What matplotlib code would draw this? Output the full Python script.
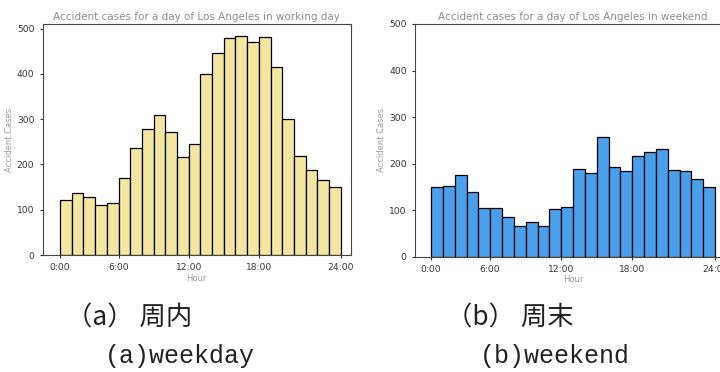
import matplotlib
matplotlib.use("Agg")
import matplotlib.pyplot as plt
import numpy as np

# hourly accident counts
hours = np.arange(24)
weekday_cases = [122, 136, 127, 110, 115, 169, 237, 278, 309, 271, 216, 246,
                 400, 445, 478, 483, 471, 481, 415, 301, 218, 188, 166, 151]
weekend_cases = [150, 151, 176, 138, 104, 104, 85, 65, 75, 65, 102, 106,
                 189, 179, 258, 193, 185, 216, 226, 232, 187, 185, 166, 150]
# the original puts its hour labels at these bin edges
tick_pos = [0, 5, 11, 17, 24]
tick_labels = ["0:00", "6:00", "12:00", "18:00", "24:00"]

fig = plt.figure(figsize=(7.2, 3.72), dpi=100)

ax1 = fig.add_axes([0.0593, 0.3145, 0.4278, 0.621])
ax2 = fig.add_axes([0.5764, 0.31, 0.439, 0.6255])


def draw(ax, values, color, title, xlim, ylim):
    ax.hist(hours, bins=np.arange(25), weights=values,
            color=color, edgecolor="black", linewidth=0.9)
    ax.set_xlim(*xlim)
    ax.set_ylim(*ylim)
    ax.set_xticks(tick_pos)
    ax.set_xticklabels(tick_labels)
    ax.set_yticks(range(0, 501, 100))
    ax.tick_params(labelsize=6.6, length=2.5, colors="#333333")
    ax.set_title(title, fontsize=7.5, color="#8c8c8c", pad=3)
    ax.set_xlabel("Hour", fontsize=6, color="#999999", labelpad=1)
    ax.set_ylabel("Accident Cases", fontsize=6, color="#999999", labelpad=2)
    for s in ax.spines.values():
        s.set_color("#444444")
        s.set_linewidth(0.8)


draw(ax1, weekday_cases, "#f2e6a0",
     "Accident cases for a day of Los Angeles in working day",
     (-1.48, 24.85), (0, 510))
draw(ax2, weekend_cases, "#4a9fec",
     "Accident cases for a day of Los Angeles in weekend",
     (-1.35, 25.35), (0, 500))

cjk = ["Noto Sans CJK SC", "DejaVu Sans"]
fig.text(66 / 720, 1 - 318 / 372, "（a） 周内", fontsize=19, family=cjk,
         ha="left", va="center", color="#222222")
fig.text(446 / 720, 1 - 318 / 372, "（b） 周末", fontsize=19, family=cjk,
         ha="left", va="center", color="#222222")
fig.text(105 / 720, 1 - 356 / 372, "(a)weekday", fontsize=18,
         family="Liberation Mono", ha="left", va="center", color="#222222")
fig.text(480 / 720, 1 - 356 / 372, "(b)weekend", fontsize=18,
         family="Liberation Mono", ha="left", va="center", color="#222222")

fig.savefig("out.png", dpi=100)
